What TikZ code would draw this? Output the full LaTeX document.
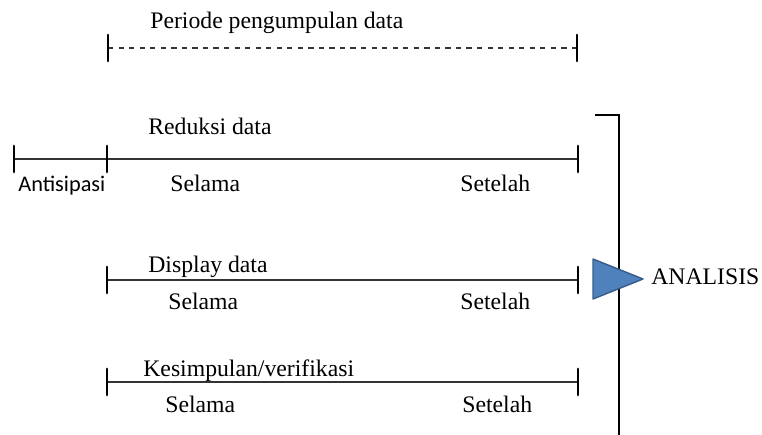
\documentclass[tikz,border=0pt]{standalone}
\usepackage{fontspec}
\setmainfont{Liberation Serif}
\newfontfamily\calibrifont{Carlito}
\usepackage{tikz}

\begin{document}
\begin{tikzpicture}[x=0.02cm, y=-0.02cm,
    tick/.style={line width=1.7pt, line cap=round},
    garis/.style={line width=0.7pt, black!80},
    teks/.style={font=\fontsize{13.5}{16}\selectfont, inner sep=0pt},
    tekssans/.style={font=\calibrifont\fontsize{12.7}{15}\selectfont, inner sep=0pt}]
    \useasboundingbox (0,0) rectangle (762,435);
    \coordinate (p1) at (108,48);
    \coordinate (p2) at (577,48);
    \coordinate (a0) at (14,159);
    \coordinate (r1) at (107,159);
    \coordinate (r2) at (578,159);
    \coordinate (d1) at (107,280);
    \coordinate (d2) at (578,280);
    \coordinate (k1) at (107,382);
    \coordinate (k2) at (578,382);
    \draw[garis, dashed] (p1) -- (p2);
    \draw[garis] (a0) -- (r2);
    \draw[garis] (d1) -- (d2);
    \draw[garis] (k1) -- (k2);
    \foreach \t in {p1,p2,a0,r1,r2,d1,d2,k1,k2}
        \draw[tick] ([yshift=0.26cm]\t) -- ([yshift=-0.26cm]\t);
    \node[teks, anchor=base west] (periode) at (150,29) {Periode pengumpulan data};
    \node[teks, anchor=base west] (reduksi) at (148,135) {Reduksi data};
    \node[tekssans, anchor=base west] (antisipasi) at (18,192) {Antisipasi};
    \node[teks, anchor=base west] (rselama) at (170,192) {Selama};
    \node[teks, anchor=base west] (rsetelah) at (460,192) {Setelah};
    \node[teks, anchor=base west] (display) at (148,273) {Display data};
    \node[teks, anchor=base west] (dselama) at (168,310) {Selama};
    \node[teks, anchor=base west] (dsetelah) at (460,310) {Setelah};
    \node[teks, anchor=base west] (kesimpulan) at (143,377) {Kesimpulan/verifikasi};
    \node[teks, anchor=base west] (kselama) at (165,413) {Selama};
    \node[teks, anchor=base west] (ksetelah) at (462,413) {Setelah};
    \draw[line width=0.7pt] (595,115) -- (619,115) -- (619,435);
    \draw[fill={rgb,255:red,79;green,129;blue,189}, draw={rgb,255:red,56;green,93;blue,138}, line width=0.8pt, line join=round]
        (593,259) -- (643,279) -- (593,299) -- cycle;
    \node[teks, anchor=base west] (analisis) at (651,285) {ANALISIS};
\end{tikzpicture}
\end{document}
